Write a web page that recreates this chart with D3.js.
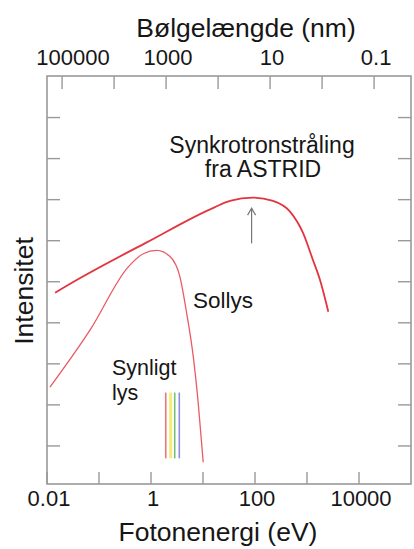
<!DOCTYPE html>
<html>
<head>
<meta charset="utf-8">
<script src="https://cdn.jsdelivr.net/npm/d3@7"></script>
<style>
  body { margin: 0; background: #fff; }
  text { font-family: "Liberation Sans", Arial, Helvetica, sans-serif; fill: #161616; }
</style>
</head>
<body>
<div id="chart"></div>
<script>
// photon energy (eV) and intensity (arbitrary, log)
const synchEnergy = [0.0143, 0.0372, 0.826, 17, 33, 92, 222, 471, 838, 1300, 1780, 2570];
const synchIntensity = [5.4e4, 1.1e5, 9.1e5, 6.6e6, 9.3e6, 1.12e7, 9.3e6, 5.1e6, 1.55e6, 3.4e5, 1.1e5, 1.86e4];

const sunEnergy = [0.0114, 0.067, 0.366, 0.711, 1.29, 2.32, 3.61, 4.86, 6.5, 8.1, 10.1];
const sunIntensity = [2.7e2, 6.6e3, 2.3e5, 4.8e5, 5.8e5, 4.1e5, 1.3e5, 1.7e4, 1.5e3, 1.1e2, 4];

// visible light bands
const visibleEnergy = [1.92, 2.39, 2.86, 3.5];
const visibleColors = ["#e87878", "#f3ee78", "#78c078", "#8a8ee0"];
const visibleSpan = [5, 200];

const energyTicks = [0.01, 0.1, 1, 10, 100, 1000, 10000];
const energyLabels = ["0.01", "", "1", "", "100", "", "10000"];
const waveTicks = [1e5, 1e4, 1e3, 1e2, 10, 1, 0.1];
const waveLabels = ["100000", "", "1000", "", "10", "", "0.1"];
const intensityTicks = [10, 1e2, 1e3, 1e4, 1e5, 1e6, 1e7, 1e8, 1e9];

const arrowEnergy = 86;
const arrowSpan = [8.6e5, 6.2e6];

const W = 414, H = 549;
const plotL = 47, plotR = 411, plotT = 76, plotB = 484;

const svg = d3.select("#chart").append("svg")
    .attr("width", W)
    .attr("height", H);

const x = d3.scaleLog().domain([0.01, 1e5]).range([plotL, plotR]);
const xTop = d3.scaleLog().domain([1.95e5, 0.0195]).range([plotL, plotR]);
const y = d3.scaleLog().domain([1, 1e10]).range([487, 76.5]);

const frameColor = "#999";

// frame
svg.append("rect")
    .attr("x", plotL).attr("y", plotT)
    .attr("width", plotR - plotL).attr("height", plotB - plotT)
    .attr("fill", "none")
    .attr("stroke", frameColor)
    .attr("stroke-width", 1.6);

// ticks
svg.selectAll(".tb").data(energyTicks).enter().append("line")
    .attr("x1", d => x(d)).attr("x2", d => x(d))
    .attr("y1", plotB).attr("y2", plotB - 12)
    .attr("stroke", frameColor).attr("stroke-width", 1.4);

svg.selectAll(".tt").data(waveTicks).enter().append("line")
    .attr("x1", d => xTop(d)).attr("x2", d => xTop(d))
    .attr("y1", plotT).attr("y2", plotT + 13)
    .attr("stroke", frameColor).attr("stroke-width", 1.4);

svg.selectAll(".tl").data(intensityTicks).enter().append("line")
    .attr("x1", plotL).attr("x2", plotL + 13)
    .attr("y1", d => y(d)).attr("y2", d => y(d))
    .attr("stroke", frameColor).attr("stroke-width", 1.4);

svg.selectAll(".tr").data(intensityTicks).enter().append("line")
    .attr("x1", plotR).attr("x2", plotR - 13)
    .attr("y1", d => y(d)).attr("y2", d => y(d))
    .attr("stroke", frameColor).attr("stroke-width", 1.4);

// tick labels
svg.selectAll(".lb").data(energyTicks).enter().append("text")
    .attr("x", d => x(d) + 2).attr("y", 506)
    .attr("text-anchor", "middle")
    .style("font-size", "22px")
    .text((d, i) => energyLabels[i]);

svg.selectAll(".lt").data(waveTicks).enter().append("text")
    .attr("x", (d, i) => xTop(d) + (i === 0 ? 11 : 2)).attr("y", 65)
    .attr("text-anchor", "middle")
    .style("font-size", "22px")
    .text((d, i) => waveLabels[i]);

// axis titles
svg.append("text")
    .attr("x", 246).attr("y", 37)
    .attr("text-anchor", "middle")
    .style("font-size", "26.5px")
    .text("Bølgelængde (nm)");

svg.append("text")
    .attr("x", 218).attr("y", 541)
    .attr("text-anchor", "middle")
    .style("font-size", "26.5px")
    .text("Fotonenergi (eV)");

svg.append("text")
    .attr("transform", "translate(33,291) rotate(-90)")
    .attr("text-anchor", "middle")
    .style("font-size", "26.5px")
    .text("Intensitet");

// curves
const line = d3.line()
    .x(d => x(d[0]))
    .y(d => y(d[1]))
    .curve(d3.curveMonotoneX);

svg.append("path")
    .datum(synchEnergy.map((e, i) => [e, synchIntensity[i]]))
    .attr("d", line)
    .attr("fill", "none")
    .attr("stroke", "#e3343f")
    .attr("stroke-width", 1.8);

svg.append("path")
    .datum(sunEnergy.map((e, i) => [e, sunIntensity[i]]))
    .attr("d", line)
    .attr("fill", "none")
    .attr("stroke", "#ea5a64")
    .attr("stroke-width", 1.3);

// visible light bars
svg.selectAll(".vis").data(visibleEnergy).enter().append("line")
    .attr("x1", d => x(d)).attr("x2", d => x(d))
    .attr("y1", y(visibleSpan[1])).attr("y2", y(visibleSpan[0]))
    .attr("stroke", (d, i) => visibleColors[i])
    .attr("stroke-width", (d, i) => i === 1 ? 3 : 1.6);

// arrow at the synchrotron peak
svg.append("line")
    .attr("x1", x(arrowEnergy)).attr("x2", x(arrowEnergy))
    .attr("y1", y(arrowSpan[0])).attr("y2", y(arrowSpan[1]))
    .attr("stroke", "#777").attr("stroke-width", 1.2);
svg.append("path")
    .attr("d", `M${x(arrowEnergy) - 4},${y(arrowSpan[1]) + 7} L${x(arrowEnergy)},${y(arrowSpan[1])} L${x(arrowEnergy) + 4},${y(arrowSpan[1]) + 7}`)
    .attr("fill", "none")
    .attr("stroke", "#777").attr("stroke-width", 1.2);

// annotations
svg.append("text")
    .attr("x", 262).attr("y", 153)
    .attr("text-anchor", "middle")
    .style("font-size", "23px")
    .text("Synkrotronstråling");
svg.append("text")
    .attr("x", 263).attr("y", 177)
    .attr("text-anchor", "middle")
    .style("font-size", "23px")
    .text("fra ASTRID");

svg.append("text")
    .attr("x", 193).attr("y", 308)
    .style("font-size", "22.5px")
    .text("Sollys");

svg.append("text")
    .attr("x", 112).attr("y", 375)
    .style("font-size", "21.5px")
    .text("Synligt");
svg.append("text")
    .attr("x", 112).attr("y", 400)
    .style("font-size", "21.5px")
    .text("lys");
</script>
</body>
</html>
